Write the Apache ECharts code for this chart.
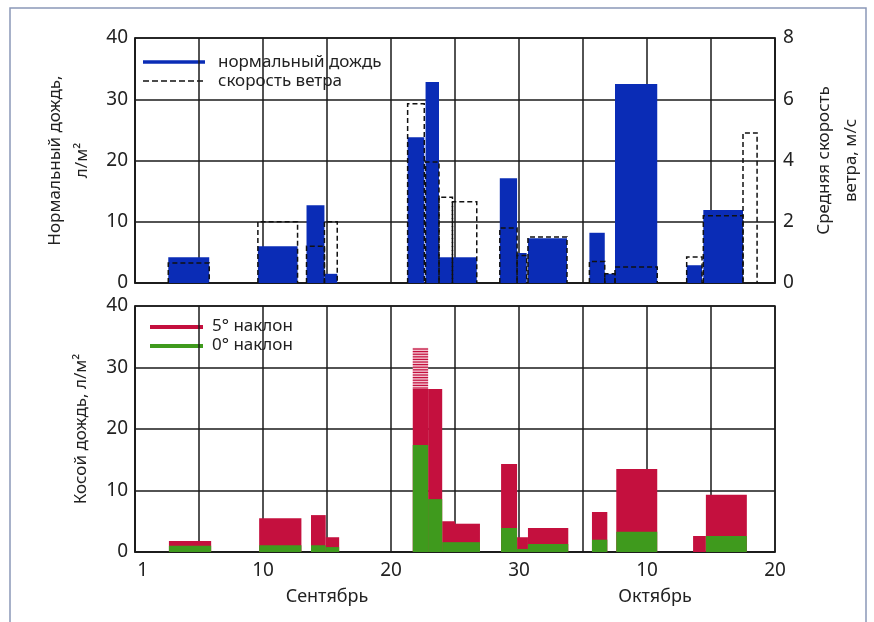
<!DOCTYPE html>
<html>
<head>
<meta charset="utf-8">
<script src="https://cdn.jsdelivr.net/npm/echarts@6/dist/echarts.min.js"></script>
<style>
html,body{margin:0;padding:0;background:#fff;}
#chart{width:874px;height:622px;}
</style>
</head>
<body>
<div id="chart"></div>
<script>
// ---- Data (days counted from 31 Aug: Sept 1 = 1, Oct 1 = 31) ----
// Top panel: normal rain (l/m2) and mean wind speed (m/s) per collection period
const topStart   = [2.6, 9.6, 13.4, 14.8, 21.3, 22.7, 23.75, 24.8, 28.5, 29.85, 30.7, 35.5, 36.7, 37.5, 43.1, 44.4, 47.5];
const topEnd     = [5.8, 12.7, 14.8, 15.8, 22.6, 23.75, 24.8, 26.7, 29.85, 30.6, 33.75, 36.7, 37.5, 40.8, 44.3, 47.5, 48.6];
const normalRain = [4.2, 6.0, 12.7, 1.5, 23.8, 32.8, 4.2, 4.2, 17.1, 4.9, 7.3, 8.2, 1.5, 32.5, 2.9, 11.9, 0];
const windSpeed  = [0.65, 2.0, 1.2, 2.0, 5.85, 3.95, 2.8, 2.65, 1.8, 0.9, 1.5, 0.7, 0.3, 0.52, 0.85, 2.2, 4.9];

// Bottom panel: driving rain (l/m2) for 5 deg and 0 deg inclination
const slantStart = [2.65, 9.7, 13.75, 14.9, 21.7, 22.9, 24.0, 25.0, 28.6, 29.85, 30.7, 35.7, 37.6, 43.6, 44.6];
const slantEnd   = [5.95, 13.0, 14.9, 15.95, 22.9, 24.0, 25.0, 26.95, 29.85, 30.7, 33.85, 36.9, 40.8, 44.6, 47.8];
const rain5deg   = [1.8, 5.5, 6.0, 2.4, 26.5, 26.5, 5.0, 4.6, 14.3, 2.4, 3.9, 6.5, 13.5, 2.6, 9.3];
const rain0deg   = [1.0, 1.1, 1.1, 0.8, 17.4, 8.6, 1.6, 1.6, 3.9, 0.5, 1.3, 2.0, 3.3, 0, 2.6];
// overflow (hatched) part of the 5 deg gauge
const hatchStart = [21.7];
const hatchEnd   = [22.9];
const hatchLow   = [26.5];
const hatchHigh  = [33.2];

// Axis ticks
const xTickValues = [0.6, 10, 20, 30, 40, 50];
const xTickLabels = ['1', '10', '20', '30', '10', '20'];
const monthLabels = ['Сентябрь', 'Октябрь'];

const FONT = 'Noto Sans';
const TXT = '#222';
const BLUE = '#0a2cb6';
const RED = '#c4103e';
const GREEN = '#3f9a1d';
const GRID = '#1a1a1a';

function rectItem(color) {
  return function (params, api) {
    const a = api.coord([api.value(0), 0]);
    const b = api.coord([api.value(1), api.value(2)]);
    return { type: 'rect', shape: { x: a[0], y: b[1], width: b[0] - a[0], height: a[1] - b[1] }, style: { fill: color } };
  };
}
function dashItem(params, api) {
  const a = api.coord([api.value(0), 0]);
  const b = api.coord([api.value(1), api.value(2)]);
  return { type: 'polyline', shape: { points: [[a[0], a[1]], [a[0], b[1]], [b[0], b[1]], [b[0], a[1]]] },
           style: { stroke: '#111', lineWidth: 1.5, lineDash: [5, 3], fill: null } };
}
function hatchItem(params, api) {
  const a = api.coord([api.value(0), api.value(2)]);
  const b = api.coord([api.value(1), api.value(3)]);
  const children = [{ type: 'rect', shape: { x: a[0], y: b[1], width: b[0] - a[0], height: a[1] - b[1] }, style: { fill: '#f2c3d0' } }];
  for (let y = a[1] - 1; y > b[1]; y -= 2.6) {
    children.push({ type: 'line', shape: { x1: a[0], y1: y, x2: b[0], y2: y }, style: { stroke: RED, lineWidth: 1.2 } });
  }
  return { type: 'group', children: children };
}

const topRects = topStart.map((s, i) => [s, topEnd[i], normalRain[i]]);
const topWind = topStart.map((s, i) => [s, topEnd[i], windSpeed[i]]);
const red5 = slantStart.map((s, i) => [s, slantEnd[i], rain5deg[i]]);
const green0 = slantStart.map((s, i) => [s, slantEnd[i], rain0deg[i]]);
const hatch = hatchStart.map((s, i) => [s, hatchEnd[i], hatchLow[i], hatchHigh[i]]);

const chart = echarts.init(document.getElementById('chart'), null, { renderer: 'canvas' });
const axisLine = { show: true, lineStyle: { color: GRID, width: 1.5 } };
const splitLine = { show: true, lineStyle: { color: GRID, width: 1.5 } };
const tickLabel = { color: TXT, fontFamily: FONT, fontSize: 19 };

chart.setOption({
  animation: false,
  backgroundColor: '#fff',
  textStyle: { fontFamily: FONT },
  grid: [
    { left: 135, right: 99, top: 38, height: 245, show: true, borderColor: GRID, borderWidth: 1.5 },
    { left: 135, right: 99, top: 306, height: 246, show: true, borderColor: GRID, borderWidth: 1.5 }
  ],
  xAxis: [
    { type: 'value', gridIndex: 0, min: 0, max: 50, interval: 5, axisLine: axisLine, axisTick: { show: false },
      axisLabel: { show: false }, splitLine: splitLine },
    { type: 'value', gridIndex: 1, min: 0, max: 50, interval: 5, axisLine: axisLine, axisTick: { show: false },
      axisLabel: Object.assign({}, tickLabel, { margin: 9, customValues: xTickValues,
        formatter: v => { const i = xTickValues.indexOf(v); return i >= 0 ? xTickLabels[i] : ''; } }),
      splitLine: splitLine }
  ],
  yAxis: [
    { type: 'value', gridIndex: 0, min: 0, max: 40, interval: 10, axisLine: axisLine, axisTick: { show: false },
      axisLabel: Object.assign({}, tickLabel, { margin: 7 }), splitLine: splitLine,
      name: 'Нормальный дождь,\nл/м²', nameLocation: 'middle', nameRotate: 90, nameGap: 36,
      nameTextStyle: { color: TXT, fontFamily: FONT, fontSize: 17, lineHeight: 27 } },
    { type: 'value', gridIndex: 0, position: 'right', min: 0, max: 8, interval: 2, axisLine: axisLine, axisTick: { show: false },
      axisLabel: Object.assign({}, tickLabel, { margin: 8 }), splitLine: { show: false },
      name: 'Средняя скорость\nветра, м/с', nameLocation: 'middle', nameRotate: 90, nameGap: 36,
      nameTextStyle: { color: TXT, fontFamily: FONT, fontSize: 17, lineHeight: 27 } },
    { type: 'value', gridIndex: 1, min: 0, max: 40, interval: 10, axisLine: axisLine, axisTick: { show: false },
      axisLabel: Object.assign({}, tickLabel, { margin: 7 }), splitLine: splitLine,
      name: 'Косой дождь, л/м²', nameLocation: 'middle', nameRotate: 90, nameGap: 45,
      nameTextStyle: { color: TXT, fontFamily: FONT, fontSize: 17 } }
  ],
  series: [
    { type: 'custom', name: 'нормальный дождь', xAxisIndex: 0, yAxisIndex: 0, renderItem: rectItem(BLUE),
      encode: { x: [0, 1], y: 2 }, data: topRects, z: 2 },
    { type: 'custom', name: 'скорость ветра', xAxisIndex: 0, yAxisIndex: 1, renderItem: dashItem,
      encode: { x: [0, 1], y: 2 }, data: topWind, z: 3 },
    { type: 'custom', name: '5° наклон (перелив)', xAxisIndex: 1, yAxisIndex: 2, renderItem: hatchItem,
      encode: { x: [0, 1], y: [2, 3] }, data: hatch, z: 2 },
    { type: 'custom', name: '5° наклон', xAxisIndex: 1, yAxisIndex: 2, renderItem: rectItem(RED),
      encode: { x: [0, 1], y: 2 }, data: red5, z: 2 },
    { type: 'custom', name: '0° наклон', xAxisIndex: 1, yAxisIndex: 2, renderItem: rectItem(GREEN),
      encode: { x: [0, 1], y: 2 }, data: green0, z: 3 }
  ],
  graphic: [
    { type: 'rect', shape: { x: 10, y: 8, width: 856, height: 640 }, style: { fill: null, stroke: '#8a98b8', lineWidth: 1.5 }, silent: true },
    // top legend
    { type: 'line', shape: { x1: 143, y1: 62, x2: 205, y2: 62 }, style: { stroke: BLUE, lineWidth: 3.5 } },
    { type: 'line', shape: { x1: 143, y1: 81, x2: 205, y2: 81 }, style: { stroke: '#111', lineWidth: 1.5, lineDash: [6, 3] } },
    { type: 'text', x: 218, y: 62, style: { text: 'нормальный дождь', fill: TXT, font: '17px "Noto Sans"', textVerticalAlign: 'middle' } },
    { type: 'text', x: 218, y: 81, style: { text: 'скорость ветра', fill: TXT, font: '17px "Noto Sans"', textVerticalAlign: 'middle' } },
    // bottom legend
    { type: 'line', shape: { x1: 150, y1: 327, x2: 203, y2: 327 }, style: { stroke: RED, lineWidth: 4 } },
    { type: 'line', shape: { x1: 150, y1: 346, x2: 203, y2: 346 }, style: { stroke: GREEN, lineWidth: 4 } },
    { type: 'text', x: 212, y: 326, style: { text: '5° наклон', fill: TXT, font: '17px "Noto Sans"', textVerticalAlign: 'middle' } },
    { type: 'text', x: 212, y: 345, style: { text: '0° наклон', fill: TXT, font: '17px "Noto Sans"', textVerticalAlign: 'middle' } },
    // month labels
    { type: 'text', x: 327, y: 597, style: { text: monthLabels[0], fill: TXT, font: '18px "Noto Sans"', textAlign: 'center', textVerticalAlign: 'middle' } },
    { type: 'text', x: 655, y: 597, style: { text: monthLabels[1], fill: TXT, font: '18px "Noto Sans"', textAlign: 'center', textVerticalAlign: 'middle' } }
  ]
});
</script>
</body>
</html>
